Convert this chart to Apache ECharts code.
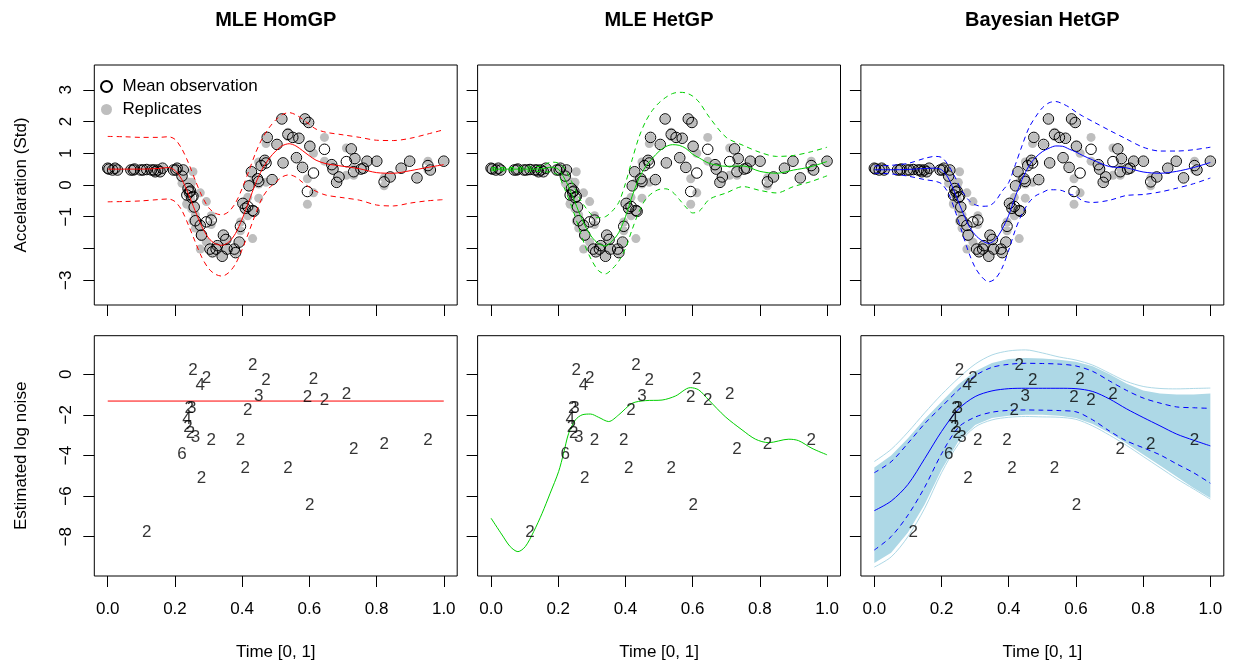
<!DOCTYPE html>
<html>
<head>
<meta charset="utf-8">
<title>Motorcycle data: HomGP vs HetGP</title>
<script src="https://cdn.jsdelivr.net/npm/echarts@6/dist/echarts.min.js"></script>
<style>
  html, body { margin: 0; padding: 0; background: #fff; }
  #chart { width: 1237px; height: 669px; }
</style>
</head>
<body>
<div id="chart"></div>
<script>
// mcycle data: time (ms) and head acceleration (g), replicates included
const times = [2.4, 2.6, 3.2, 3.6, 4.0, 6.2, 6.6, 6.8, 7.8, 8.2, 8.8, 8.8, 9.6, 10.0, 10.2, 10.6, 11.0, 11.4, 13.2, 13.6,
  13.8, 14.6, 14.6, 14.6, 14.6, 14.6, 14.6, 14.8, 15.4, 15.4, 15.4, 15.4, 15.6, 15.6, 15.8, 15.8, 16.0, 16.0, 16.2, 16.2,
  16.2, 16.4, 16.4, 16.6, 16.8, 16.8, 16.8, 17.6, 17.6, 17.6, 17.6, 17.8, 17.8, 18.6, 18.6, 19.2, 19.4, 19.4, 19.6, 20.2,
  20.4, 21.2, 21.4, 21.8, 22.0, 23.2, 23.4, 24.0, 24.2, 24.2, 24.6, 25.0, 25.0, 25.4, 25.4, 25.6, 26.0, 26.2, 26.2, 26.4,
  27.0, 27.2, 27.2, 27.2, 27.6, 28.2, 28.4, 28.4, 28.6, 29.4, 30.2, 31.0, 31.2, 32.0, 32.0, 32.8, 33.4, 33.8, 34.4, 34.8,
  35.2, 35.2, 35.4, 35.6, 35.6, 36.2, 36.2, 38.0, 38.0, 39.2, 39.4, 40.0, 40.4, 41.6, 41.6, 42.4, 42.8, 42.8, 43.0, 44.0,
  44.4, 45.0, 46.6, 47.8, 47.8, 48.8, 50.6, 52.0, 53.2, 55.0, 55.0, 55.4, 57.6];
const accel = [0.0, -1.3, -2.7, 0.0, -2.7, -2.7, -2.7, -1.3, -2.7, -2.7, -1.3, -2.7, -2.7, -2.7, -5.4, -2.7, -5.4, 0.0, -2.7, -2.7,
  0.0, -13.3, -5.4, -5.4, -9.3, -16.0, -22.8, -2.7, -22.8, -32.1, -53.5, -54.9, -40.2, -21.5, -21.5, -50.8, -42.9, -26.8, -21.5, -50.8,
  -61.7, -5.4, -80.4, -59.0, -71.0, -91.1, -77.7, -37.5, -85.6, -123.1, -101.9, -99.1, -104.4, -112.5, -50.8, -123.1, -85.6, -72.3, -127.2, -123.1,
  -117.9, -134.0, -101.9, -108.4, -123.1, -123.1, -128.5, -112.5, -95.1, -81.8, -53.5, -64.4, -57.6, -72.3, -44.3, -26.8, -5.4, -107.1, -21.5, -65.6,
  -16.0, -45.6, -24.2, 9.5, 4.0, 12.0, -21.5, 37.5, 46.9, -17.4, 36.2, 75.0, 8.1, 54.9, 48.2, 46.9, 16.0, 45.6, 1.3, 75.0,
  -16.0, -54.9, 69.6, 34.8, 32.1, -37.5, 22.8, 46.9, 10.7, 5.4, -1.3, -21.5, -13.3, 30.8, -10.7, 29.4, 0.0, -10.7, 14.7, -1.3,
  0.0, 10.7, 10.7, -26.8, -14.7, -13.3, 0.0, 10.7, -14.7, -2.7, 10.7, -2.7, 10.7];

// predictive mean and 95% bands (time scaled to [0, 1])
const fitX = [0, 0.05, 0.1, 0.15, 0.18, 0.2, 0.22, 0.24, 0.26, 0.28, 0.3, 0.32, 0.34, 0.36, 0.38, 0.4, 0.42, 0.44,
  0.46, 0.48, 0.5, 0.52, 0.54, 0.56, 0.58, 0.6, 0.62, 0.65, 0.7, 0.75, 0.8, 0.85, 0.9, 0.95, 1.0];

const homMean = [0.50, 0.50, 0.50, 0.52, 0.55, 0.46, 0.18, -0.28, -0.81, -1.31, -1.67, -1.85, -1.90, -1.80, -1.53, -1.07, -0.52, 0.05,
  0.50, 0.83, 1.07, 1.24, 1.30, 1.23, 1.08, 0.92, 0.78, 0.67, 0.59, 0.51, 0.39, 0.37, 0.45, 0.55, 0.64];
const homUpper = [1.53, 1.52, 1.50, 1.50, 1.52, 1.44, 1.15, 0.70, 0.16, -0.34, -0.71, -0.89, -0.94, -0.84, -0.57, -0.11, 0.44, 1.01,
  1.47, 1.80, 2.05, 2.22, 2.28, 2.21, 2.07, 1.91, 1.76, 1.66, 1.58, 1.50, 1.41, 1.40, 1.47, 1.60, 1.74];
const homLower = [-0.53, -0.52, -0.50, -0.46, -0.44, -0.52, -0.79, -1.26, -1.78, -2.28, -2.63, -2.81, -2.87, -2.76, -2.49, -2.03, -1.48, -0.91,
  -0.40, -0.10, 0.09, 0.26, 0.32, 0.25, 0.08, -0.07, -0.20, -0.32, -0.40, -0.48, -0.63, -0.66, -0.57, -0.50, -0.46];

const hetMean = [0.50, 0.50, 0.50, 0.51, 0.56, 0.50, 0.18, -0.28, -0.81, -1.29, -1.64, -1.85, -1.92, -1.77, -1.50, -1.00, -0.35, 0.20,
  0.58, 0.84, 1.06, 1.21, 1.27, 1.25, 1.15, 0.97, 0.85, 0.68, 0.59, 0.60, 0.43, 0.37, 0.47, 0.57, 0.74];
const hetUpper = [0.55, 0.55, 0.56, 0.60, 0.72, 0.69, 0.50, 0.11, -0.36, -0.69, -0.94, -1.03, -1.00, -0.83, -0.55, 0.05, 0.80, 1.50,
  2.00, 2.35, 2.59, 2.76, 2.88, 2.92, 2.90, 2.80, 2.60, 2.13, 1.50, 1.25, 1.03, 0.90, 0.93, 1.04, 1.19];
const hetLower = [0.45, 0.45, 0.44, 0.42, 0.40, 0.31, -0.15, -0.68, -1.30, -1.92, -2.38, -2.70, -2.80, -2.65, -2.40, -2.00, -1.40, -0.85,
  -0.45, -0.25, -0.14, -0.12, -0.22, -0.45, -0.70, -0.88, -0.82, -0.45, -0.25, -0.05, -0.17, -0.25, -0.05, 0.10, 0.29];

const bayesMean = [0.48, 0.48, 0.49, 0.52, 0.53, 0.48, 0.22, -0.26, -0.78, -1.26, -1.57, -1.75, -1.84, -1.72, -1.40, -0.95, -0.35, 0.18,
  0.60, 0.87, 1.05, 1.16, 1.23, 1.22, 1.13, 1.04, 0.93, 0.79, 0.58, 0.54, 0.41, 0.37, 0.43, 0.55, 0.71];
const bayesUpper = [0.60, 0.62, 0.68, 0.84, 0.90, 0.87, 0.63, 0.25, -0.17, -0.47, -0.62, -0.67, -0.66, -0.51, -0.20, 0.08, 0.65, 1.25,
  1.80, 2.15, 2.43, 2.59, 2.63, 2.56, 2.45, 2.30, 2.17, 2.00, 1.72, 1.45, 1.19, 1.07, 1.07, 1.11, 1.19];
const bayesLower = [0.37, 0.35, 0.28, 0.17, 0.12, 0.04, -0.25, -0.80, -1.45, -2.10, -2.60, -2.90, -3.05, -2.95, -2.62, -2.05, -1.40, -0.90,
  -0.55, -0.34, -0.24, -0.15, -0.15, -0.18, -0.28, -0.35, -0.50, -0.55, -0.48, -0.33, -0.30, -0.22, -0.10, 0.04, 0.22];

// estimated log noise curves
const homNoiseX = [0, 1];
const homNoise = [-1.32, -1.32];

const hetNoiseX = [0, 0.033, 0.057, 0.08, 0.102, 0.127, 0.152, 0.176, 0.201, 0.216, 0.231, 0.251, 0.271, 0.296, 0.32, 0.35,
  0.38, 0.42, 0.459, 0.509, 0.549, 0.593, 0.618, 0.648, 0.697, 0.747, 0.787, 0.826, 0.886, 0.915, 0.955, 1.0];
const hetNoise = [-7.09, -7.92, -8.49, -8.74, -8.49, -7.75, -6.85, -5.86, -4.80, -3.89, -2.91, -2.25, -2.00, -1.96, -2.12, -2.33,
  -2.00, -1.43, -1.30, -1.27, -1.07, -0.66, -0.77, -1.27, -2.09, -2.74, -3.20, -3.37, -3.20, -3.27, -3.65, -3.97];

const bayesNoiseX = [0, 0.05, 0.1, 0.15, 0.2, 0.25, 0.3, 0.35, 0.4, 0.45, 0.5, 0.55, 0.6, 0.65, 0.7, 0.75, 0.8, 0.85, 0.9, 0.95, 1.0];
const bayesNoiseMean = [-6.72, -6.25, -5.43, -4.15, -2.82, -1.72, -1.10, -0.82, -0.71, -0.69, -0.69, -0.69, -0.71, -0.85, -1.22,
  -1.70, -2.13, -2.54, -2.95, -3.25, -3.53];
const bayesNoiseUpper = [-4.85, -4.31, -3.40, -2.43, -1.60, -0.78, -0.07, 0.34, 0.49, 0.54, 0.53, 0.50, 0.41, 0.14, -0.33,
  -0.79, -1.17, -1.42, -1.61, -1.65, -1.68];
const bayesNoiseLower = [-8.66, -8.00, -6.94, -5.56, -3.92, -2.62, -2.11, -1.87, -1.78, -1.76, -1.77, -1.79, -1.85, -2.25, -2.80,
  -3.28, -3.62, -3.97, -4.42, -4.85, -5.37];
// envelope of the posterior sample paths, plus the outermost paths
const sampleTop = [-4.6, -4.0, -3.15, -2.2, -1.35, -0.5, 0.15, 0.55, 0.75, 0.8, 0.78, 0.72, 0.62, 0.4, 0.0, -0.45, -0.8, -0.95, -1.0, -1.0, -0.95];
const sampleBottom = [-9.3, -8.8, -7.8, -6.4, -4.7, -3.3, -2.5, -2.15, -2.05, -2.0, -2.0, -2.05, -2.15, -2.45, -2.9, -3.4, -3.95, -4.5, -5.05, -5.6, -6.1];
const sampleHigh = [-4.3, -3.7, -2.85, -1.9, -1.0, -0.2, 0.5, 0.95, 1.15, 1.2, 1.05, 0.85, 0.7, 0.45, 0.05, -0.35, -0.6, -0.7, -0.72, -0.7, -0.68];
const sampleLow = [-9.5, -9.0, -8.0, -6.6, -4.85, -3.45, -2.6, -2.25, -2.12, -2.08, -2.1, -2.12, -2.22, -2.55, -3.0, -3.5, -4.05, -4.6, -5.15, -5.65, -6.15];

const xTicks = [0, 0.2, 0.4, 0.6, 0.8, 1];
const accelTicks = [-3, -2, -1, 0, 1, 2, 3];
const accelTickLabels = [-3, -1, 0, 1, 2, 3];
const noiseTicks = [-8, -6, -4, -2, 0];

const titles = ['MLE HomGP', 'MLE HetGP', 'Bayesian HetGP'];

// ---- derived points: scale time to [0,1], standardise acceleration ----
const tMin = Math.min(...times), tMax = Math.max(...times);
const n = accel.length;
const mu = accel.reduce((a, b) => a + b, 0) / n;
const sd = Math.sqrt(accel.reduce((a, b) => a + (b - mu) * (b - mu), 0) / (n - 1));
const xs = times.map(t => (t - tMin) / (tMax - tMin));
const ys = accel.map(a => (a - mu) / sd);
const replicates = xs.map((x, i) => [x, ys[i]]);

const groups = new Map();
times.forEach((t, i) => {
  const k = t.toFixed(1);
  if (!groups.has(k)) groups.set(k, { x: xs[i], v: [] });
  groups.get(k).v.push(ys[i]);
});
const meanObs = [];
const noiseLabels = [];
groups.forEach(g => {
  const m = g.v.reduce((a, b) => a + b, 0) / g.v.length;
  meanObs.push([g.x, m]);
  if (g.v.length > 1) {
    const s2 = g.v.reduce((a, b) => a + (b - m) * (b - m), 0) / (g.v.length - 1);
    noiseLabels.push([g.x, Math.log(s2), g.v.length]);
  }
});

const pairs = (xArr, yArr) => xArr.map((x, i) => [x, yArr[i]]);
const minus = v => (v < 0 ? '\u2212' + Math.abs(v) : String(v));

const FONT = 'Liberation Sans, Arial, Helvetica, sans-serif';
const lefts = [94.3, 477.6, 860.9];
const W = 362.9;
const colors = ['#ff0000', '#00d000', '#0000ff'];

const grids = [], xAxes = [], yAxes = [], series = [];
for (let row = 0; row < 2; row++) {
  for (let col = 0; col < 3; col++) {
    grids.push({
      left: lefts[col], width: W,
      top: row === 0 ? 65 : 335.7, height: row === 0 ? 240 : 240.3,
      show: true, borderColor: '#000', borderWidth: 1, backgroundColor: 'transparent',
      containLabel: false, outerBoundsMode: 'none'
    });
    const gi = row * 3 + col;
    xAxes.push({
      type: 'value', gridIndex: gi, min: -0.04, max: 1.04, position: 'bottom',
      axisLine: { show: false, onZero: false }, splitLine: { show: false },
      axisTick: { show: true, customValues: xTicks, length: 11, lineStyle: { color: '#000', width: 1 } },
      axisLabel: {
        show: row === 1, customValues: xTicks, margin: 25, color: '#000',
        fontSize: 17, fontFamily: FONT, formatter: v => v.toFixed(1)
      },
      name: row === 1 ? 'Time [0, 1]' : '', nameLocation: 'middle', nameGap: 68,
      nameTextStyle: { fontSize: 17, fontFamily: FONT, color: '#000' }
    });
    const ticks = row === 0 ? accelTicks : noiseTicks;
    const labs = row === 0 ? accelTickLabels : noiseTicks;
    yAxes.push({
      type: 'value', gridIndex: gi, position: 'left',
      min: row === 0 ? -3.78 : -9.94, max: row === 0 ? 3.78 : 1.9,
      axisLine: { show: false, onZero: false }, splitLine: { show: false },
      axisTick: { show: true, customValues: ticks, length: 11, lineStyle: { color: '#000', width: 1 } },
      axisLabel: {
        show: col === 0, customValues: labs, rotate: 90, margin: 19, color: '#000',
        fontSize: 17, fontFamily: FONT, formatter: minus
      },
      name: col === 0 ? (row === 0 ? 'Accelaration (Std)' : 'Estimated log noise') : '',
      nameLocation: 'middle', nameGap: 64,
      nameTextStyle: { fontSize: 17, fontFamily: FONT, color: '#000' }
    });
  }
}

const fits = [
  [homMean, homUpper, homLower],
  [hetMean, hetUpper, hetLower],
  [bayesMean, bayesUpper, bayesLower]
];

// top row: observations and predictive fits
for (let col = 0; col < 3; col++) {
  const c = colors[col];
  series.push({
    name: 'Replicates', type: 'scatter', xAxisIndex: col, yAxisIndex: col,
    data: replicates, symbol: 'circle', symbolSize: 9,
    itemStyle: { color: '#bebebe', opacity: 1 }
  });
  series.push({
    name: 'Mean observation', type: 'scatter', xAxisIndex: col, yAxisIndex: col,
    data: meanObs, symbol: 'circle', symbolSize: 10.5,
    itemStyle: { color: 'rgba(0,0,0,0)', borderColor: '#000', borderWidth: 1, opacity: 1 }
  });
  const [m, u, l] = fits[col];
  series.push({
    name: titles[col] + ' mean', type: 'line', xAxisIndex: col, yAxisIndex: col,
    data: pairs(fitX, m), showSymbol: false, smooth: 0.3,
    lineStyle: { color: c, width: 1 }
  });
  [u, l].forEach((arr, k) => series.push({
    name: titles[col] + (k ? ' lower' : ' upper'), type: 'line', xAxisIndex: col, yAxisIndex: col,
    data: pairs(fitX, arr), showSymbol: false, smooth: 0.3,
    lineStyle: { color: c, width: 1, type: [5, 4] }
  }));
}

// bottom row: log noise
series.push({
  name: 'HomGP noise', type: 'line', xAxisIndex: 3, yAxisIndex: 3,
  data: pairs(homNoiseX, homNoise), showSymbol: false,
  lineStyle: { color: colors[0], width: 1 }
});
series.push({
  name: 'HetGP noise', type: 'line', xAxisIndex: 4, yAxisIndex: 4,
  data: pairs(hetNoiseX, hetNoise), showSymbol: false, smooth: 0.3,
  lineStyle: { color: colors[1], width: 1 }
});
series.push({
  name: 'Posterior samples', type: 'custom', xAxisIndex: 5, yAxisIndex: 5, silent: true,
  data: [[0.5, -4]],
  renderItem: (params, api) => {
    const pts = [];
    bayesNoiseX.forEach((x, j) => pts.push(api.coord([x, sampleTop[j]])));
    for (let j = bayesNoiseX.length - 1; j >= 0; j--) pts.push(api.coord([bayesNoiseX[j], sampleBottom[j]]));
    return { type: 'polygon', shape: { points: pts }, style: { fill: '#add8e6' } };
  }
});
[sampleHigh, sampleLow].forEach((arr, k) => series.push({
  name: 'Sample path ' + (k + 1), type: 'line', xAxisIndex: 5, yAxisIndex: 5,
  data: pairs(bayesNoiseX, arr), showSymbol: false, smooth: 0.3,
  lineStyle: { color: '#add8e6', width: 1 }
}));
series.push({
  name: 'Bayes noise mean', type: 'line', xAxisIndex: 5, yAxisIndex: 5,
  data: pairs(bayesNoiseX, bayesNoiseMean), showSymbol: false, smooth: 0.3,
  lineStyle: { color: colors[2], width: 1 }
});
[bayesNoiseUpper, bayesNoiseLower].forEach((arr, k) => series.push({
  name: 'Bayes noise ' + (k ? 'lower' : 'upper'), type: 'line', xAxisIndex: 5, yAxisIndex: 5,
  data: pairs(bayesNoiseX, arr), showSymbol: false, smooth: 0.3,
  lineStyle: { color: colors[2], width: 1, type: [5, 4] }
}));

// replicate counts written at the empirical log variance
for (let col = 0; col < 3; col++) {
  series.push({
    name: 'Replicate count', type: 'scatter', xAxisIndex: 3 + col, yAxisIndex: 3 + col,
    data: noiseLabels, symbolSize: 1, z: 5,
    itemStyle: { color: 'rgba(0,0,0,0)' },
    label: {
      show: true, position: 'inside', formatter: p => String(p.value[2]),
      color: '#000', fontSize: 17, fontFamily: FONT
    }
  });
}

const chart = echarts.init(document.getElementById('chart'));
chart.setOption({
  animation: false,
  backgroundColor: '#fff',
  title: titles.map((t, i) => ({
    text: t, left: lefts[i] + W / 2, top: 10, textAlign: 'center', padding: 0,
    textStyle: { fontSize: 20, fontWeight: 'bold', fontFamily: FONT, color: '#000' }
  })),
  legend: {
    data: ['Mean observation', 'Replicates'],
    orient: 'vertical', left: 100, top: 78, padding: 0,
    itemWidth: 22, itemHeight: 11, itemGap: 6,
    textStyle: { fontSize: 17, fontFamily: FONT, color: '#000' },
    selectedMode: false
  },
  grid: grids,
  xAxis: xAxes,
  yAxis: yAxes,
  series: series
});
window.addEventListener('resize', () => chart.resize());
</script>
</body>
</html>
